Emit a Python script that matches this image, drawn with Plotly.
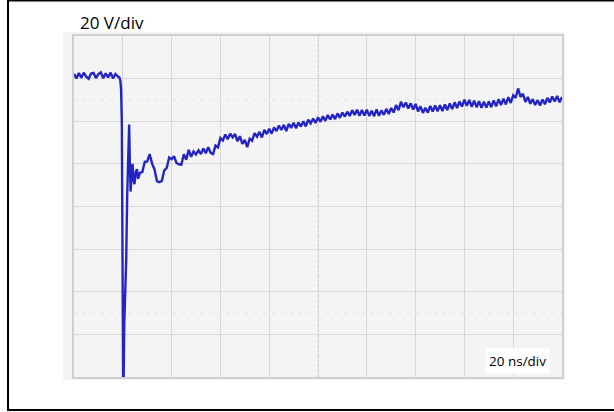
import plotly.graph_objects as go

# ---- data ----
time_ns = [0, 1, 2, 3, 4, 5, 6, 7, 8, 9, 10, 11, 12, 13, 14, 15, 16, 17, 18,
           18.6, 19.0, 19.3, 19.6, 19.9, 20.2, 20.6, 21.0, 21.4, 21.8, 22.2, 22.6,
           22.9, 23.2, 23.6, 24.0, 24.4, 24.8, 25.3, 25.8, 26.3] + list(range(27, 201))
volts = [62.3, 60.1, 62.6, 60.4, 62.8, 60.9, 59.9, 62.4, 62.7, 60.3, 62.1, 62.9, 60.2,
         62.5, 60.6, 62.8, 60.1, 62.2, 61.0,
         60.5, 59.0, 55.0, 40.0, -20.0, -95.0, -55.0, -40.0, -25.0, 5.0, 25.0, 38.5,
         20.0, 7.0, 16.0, 20.0, 12.0, 10.5, 16.0, 17.5, 13.0,
         # 27 .. 200 ns
         15.8, 16.2, 21.0, 21.2, 24.6, 20.1, 17.4, 11.9, 11.4, 12.0,
         17.0, 18.1, 23.0, 22.2, 23.6, 20.4, 19.8, 19.6, 24.5, 21.9,
         26.6, 23.3, 25.8, 24.4, 26.4, 24.6, 27.2, 25.0, 27.8, 25.2,
         24.6, 28.6, 27.7, 32.1, 31.0, 33.8, 31.6, 34.2, 32.4, 34.0,
         30.6, 33.0, 29.4, 31.2, 27.9, 31.8, 30.9, 34.4, 32.8, 35.0,
         32.4, 35.9, 34.0, 36.5, 34.2, 37.1, 35.4, 38.0, 35.9, 38.3,
         35.4, 38.8, 36.9, 39.3, 36.7, 39.4, 37.5, 40.0, 37.6, 40.7,
         39.0, 41.3, 39.2, 41.8, 39.7, 42.3, 40.2, 42.9, 40.8, 43.1,
         41.0, 43.7, 41.6, 44.1, 42.2, 44.5, 42.5, 45.2, 43.0, 45.4,
         42.6, 45.3, 42.7, 45.4, 42.5, 44.9, 42.4, 45.6, 42.6, 45.1,
         43.0, 45.8, 43.4, 46.2, 44.1, 47.6, 45.2, 49.1, 46.6, 48.8,
         46.0, 48.4, 45.5, 48.1, 44.6, 47.0, 43.9, 46.3, 44.0, 47.2,
         44.6, 47.4, 44.7, 47.5, 44.8, 47.9, 45.2, 48.4, 45.7, 48.9,
         46.2, 49.3, 46.9, 50.1, 47.2, 50.0, 46.8, 49.6, 46.6, 49.4,
         46.3, 49.2, 46.4, 49.3, 46.6, 49.8, 47.0, 50.3, 47.6, 50.6,
         47.9, 51.3, 48.6, 52.2, 51.0, 55.4, 51.4, 52.9, 49.1, 51.4,
         48.2, 50.4, 47.6, 49.9, 47.4, 50.2, 48.0, 51.0, 48.8, 51.6,
         49.3, 51.9, 48.9, 51.4]

trigger_level_v = [40]
trigger_time_ns = [201]
ground_marker_v = [62.5]
ground_marker_t = [-3]

volt_label = "20 V/div"
time_label = "20 ns/div"

fig = go.Figure()

fig.add_trace(go.Scatter(
    x=time_ns, y=volts, mode="lines",
    line=dict(color="#2424c4", width=2.4),
    showlegend=False, hoverinfo="skip"))

fig.add_trace(go.Scatter(
    x=trigger_time_ns, y=trigger_level_v, mode="markers",
    marker=dict(symbol="triangle-left", size=6, color="#2a2ac8"),
    cliponaxis=False, showlegend=False, hoverinfo="skip"))

fig.add_trace(go.Scatter(
    x=ground_marker_t, y=ground_marker_v, mode="markers",
    marker=dict(symbol="square", size=4, color="#9a9ac0"),
    cliponaxis=False, showlegend=False, hoverinfo="skip"))

shapes = []
# screen background (slightly larger than the graticule)
shapes.append(dict(type="rect", xref="paper", yref="paper",
                   x0=-0.0225, x1=1.006, y0=-0.009, y1=1.012,
                   fillcolor="#f4f4f4", line=dict(width=0), layer="below"))
# centre graticule lines
shapes.append(dict(type="line", xref="x", yref="paper", x0=100, x1=100, y0=0, y1=1,
                   line=dict(color="#c4c4c4", width=1.2, dash="2px,3px"), layer="below"))
shapes.append(dict(type="line", xref="paper", yref="paper", x0=0, x1=1, y0=0.5, y1=0.5,
                   line=dict(color="#c4c4c4", width=1.2, dash="2px,3px"), layer="below"))
# faint cursor lines
for yv in (50, -50):
    shapes.append(dict(type="line", xref="paper", yref="y", x0=0, x1=1, y0=yv, y1=yv,
                       line=dict(color="#e2e2e2", width=1, dash="3px,6px"), layer="below"))
# outer black frame, open on the right (runs past the visible window edge)
shapes.append(dict(type="path", xref="paper", yref="paper",
                   path="M 1.3,1.104 L -0.1352,1.104 L -0.1352,-0.0968 L 1.3,-0.0968",
                   fillcolor="rgba(0,0,0,0)", line=dict(color="black", width=2)))

annotations = [
    dict(text=volt_label, xref="paper", yref="paper", x=0.008, y=1.041,
         xanchor="left", yanchor="middle", showarrow=False,
         font=dict(family="Open Sans", size=17, color="black")),
    dict(text=time_label, xref="paper", yref="paper", x=0.976, y=0.047,
         xanchor="right", yanchor="middle", showarrow=False, bgcolor="white",
         borderpad=3, font=dict(family="Open Sans", size=13.5, color="black")),
]

# the figure is a little wider than the 614 px window so its right edge falls outside
fig.update_layout(
    width=640, height=412,
    margin=dict(l=74, r=78, t=36, b=35),
    paper_bgcolor="white", plot_bgcolor="#f4f4f4",
    shapes=shapes, annotations=annotations,
    xaxis=dict(range=[0, 200], dtick=20, showgrid=True, gridcolor="#d8d8d8",
               gridwidth=1, showticklabels=False, zeroline=False, ticks="",
               showline=True, mirror=True, linecolor="#cfcfcf", linewidth=1.5,
               fixedrange=True),
    yaxis=dict(range=[-80, 80], dtick=20, showgrid=True, gridcolor="#d8d8d8",
               gridwidth=1, showticklabels=False, zeroline=False, ticks="",
               showline=True, mirror=True, linecolor="#cfcfcf", linewidth=1.5,
               fixedrange=True),
)

fig.write_html("out.html", config={"displayModeBar": False},
               post_script="document.body.style.margin='0';document.body.style.padding='0';"
                           "document.body.style.overflow='hidden';")
